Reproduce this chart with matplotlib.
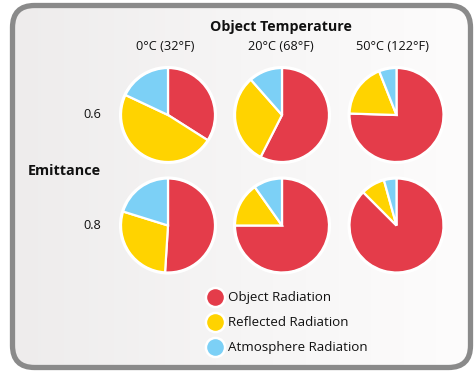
import matplotlib
matplotlib.use("Agg")
import matplotlib.pyplot as plt
import numpy as np
from matplotlib.patches import FancyBboxPatch, Circle
from matplotlib.colors import LinearSegmentedColormap

# ---- data ----
title = "Object Temperature"
temperatures = ["0°C (32°F)", "20°C (68°F)", "50°C (122°F)"]
emittances = ["0.6", "0.8"]
row_title = "Emittance"
components = ["Object Radiation", "Reflected Radiation", "Atmosphere Radiation"]
object_rad = [[0.34, 0.575, 0.755], [0.51, 0.75, 0.875]]
reflected_rad = [[0.48, 0.31, 0.185], [0.288, 0.152, 0.082]]
atmosphere_rad = [[0.18, 0.115, 0.06], [0.202, 0.098, 0.043]]

colors = ["#E43C4A", "#FFD300", "#7CD0F6"]
font = ["Open Sans", "DejaVu Sans"]

W, H = 477, 373
fig = plt.figure(figsize=(W / 100, H / 100), dpi=100)
ax = fig.add_axes([0, 0, 1, 1])

def Y(y):
    return H - y

col_x = [168, 282, 396.5]
row_y = [115, 225.5]
radius = 47

for r in range(2):
    for c in range(3):
        vals = [object_rad[r][c], reflected_rad[r][c], atmosphere_rad[r][c]]
        ax.pie(vals, colors=colors, startangle=90, counterclock=False,
               center=(col_x[c], Y(row_y[r])), radius=radius, frame=True,
               wedgeprops=dict(edgecolor="white", linewidth=1.6))
        ax.add_patch(Circle((col_x[c], Y(row_y[r])), radius + 0.8, facecolor="none",
                            edgecolor="white", linewidth=1.8, zorder=4))

# frame with gradient
x0, x1, y0, y1 = 12.5, 470.5, 5.5, 367.5
box = FancyBboxPatch((x0, Y(y1)), x1 - x0, y1 - y0,
                     boxstyle="round,pad=0,rounding_size=22",
                     facecolor="none", edgecolor="#8A8A8A", linewidth=3.8, zorder=6)
ax.add_patch(box)
grad = np.linspace(0, 1, 256).reshape(1, -1)
cmap = LinearSegmentedColormap.from_list("bg", ["#EEECEC", "#F6F5F5", "#FDFCFC"])
im = ax.imshow(grad, extent=[x0, x1, Y(y1), Y(y0)], cmap=cmap, aspect="auto", zorder=0)
im.set_clip_path(box)

ax.set_xlim(0, W)
ax.set_ylim(0, H)
ax.set_aspect("equal")
ax.axis("off")

ax.text(281, Y(27), title, ha="center", va="center", fontsize=10.2,
        fontweight="bold", family=font, color="#111111")
for c, t in enumerate(temperatures):
    ax.text([165, 281, 393][c], Y(46), t, ha="center", va="center",
            fontsize=9.2, family=font, color="#111111")
for r, e in enumerate(emittances):
    ax.text(101, Y(row_y[r]), e, ha="right", va="center", fontsize=9.2,
            family=font, color="#111111")
ax.text(101, Y(171), row_title, ha="right", va="center", fontsize=10.4,
        fontweight="bold", family=font, color="#111111")

leg_y = [297, 322, 347]
for i, lab in enumerate(components):
    ax.scatter([215], [Y(leg_y[i])], s=190, color=colors[i], edgecolors="white",
               linewidths=1.8, zorder=5)
    ax.text(228, Y(leg_y[i]), lab, ha="left", va="center", fontsize=9.6,
            family=font, color="#111111")

fig.savefig("out.png", dpi=100)
